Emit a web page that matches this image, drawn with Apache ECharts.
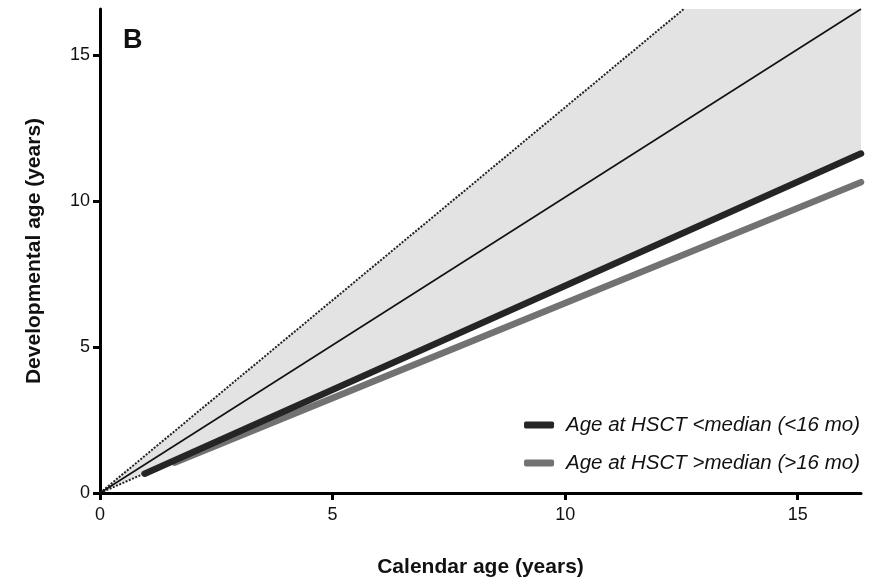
<!DOCTYPE html>
<html>
<head>
<meta charset="utf-8">
<script src="https://cdn.jsdelivr.net/npm/echarts@6/dist/echarts.min.js"></script>
<style>
  html, body { margin: 0; padding: 0; background: #fff; }
  #chart { width: 872px; height: 583px; }
</style>
</head>
<body>
<div id="chart"></div>
<script>
// values (years)
var xMax = 16.36;
var yMax = 16.57;
var tickValues = [0, 5, 10, 15];

// grey band: lower edge and upper (dotted) edge, same x points
var bandX = [0, 12.55, 16.36];
var bandLow = [0, 8.9, 11.6];
var bandHigh = [0, 16.57, 16.57];

var upperDotted = [[0, 0], [12.55, 16.57]];
var lowerDotted = [[0, 0], [1.0, 0.7]];
var identityLine = [[0, 0], [16.36, 16.57]];
var belowMedian = [[0.96, 0.66], [16.36, 11.62]];
var aboveMedian = [[1.6, 1.04], [16.36, 10.64]];

var nameBelow = "Age at HSCT <median (<16 mo)";
var nameAbove = "Age at HSCT >median (>16 mo)";

var font = "'Liberation Sans', Arial, sans-serif";

function renderBand(params, api) {
  var pts = [];
  for (var i = 0; i < bandX.length; i++) {
    pts.push(api.coord([bandX[i], bandHigh[i]]));
  }
  for (var j = bandX.length - 1; j >= 0; j--) {
    pts.push(api.coord([bandX[j], bandLow[j]]));
  }
  return {
    type: "polygon",
    shape: { points: pts },
    style: { fill: "#e3e3e3" },
    silent: true
  };
}

var chart = echarts.init(document.getElementById("chart"));
chart.setOption({
  backgroundColor: "#fff",
  animation: false,
  title: {
    text: "B",
    left: 118,
    top: 22,
    textStyle: { fontFamily: font, fontSize: 27, fontWeight: "bold", color: "#111" }
  },
  grid: { left: 100, right: 11, top: 9, bottom: 88 },
  legend: {
    orient: "vertical",
    right: 7,
    top: 410,
    itemGap: 18,
    itemWidth: 30,
    itemHeight: 7,
    icon: "roundRect",
    data: [nameBelow, nameAbove],
    textStyle: {
      fontFamily: font,
      fontSize: 20.5,
      fontStyle: "italic",
      color: "#111",
      padding: [0, 0, 0, 7]
    }
  },
  xAxis: {
    type: "value",
    min: 0,
    max: xMax,
    name: "Calendar age (years)",
    nameLocation: "middle",
    nameGap: 64,
    nameTextStyle: { fontFamily: font, fontSize: 21, fontWeight: "bold", color: "#111" },
    axisLine: { lineStyle: { color: "#000", width: 3 } },
    axisTick: { customValues: tickValues, length: 7, lineStyle: { color: "#000", width: 3 } },
    axisLabel: { customValues: tickValues, margin: 13, fontFamily: font, fontSize: 18, color: "#111" },
    splitLine: { show: false }
  },
  yAxis: {
    type: "value",
    min: 0,
    max: yMax,
    name: "Developmental age (years)",
    nameLocation: "middle",
    nameGap: 55,
    nameTextStyle: { fontFamily: font, fontSize: 21, fontWeight: "bold", color: "#111" },
    axisLine: { lineStyle: { color: "#000", width: 3 } },
    axisTick: { customValues: tickValues, length: 7, lineStyle: { color: "#000", width: 3 } },
    axisLabel: { customValues: tickValues, margin: 10, fontFamily: font, fontSize: 18, color: "#111" },
    splitLine: { show: false }
  },
  series: [
    {
      type: "custom",
      renderItem: renderBand,
      data: [[0, 0]],
      silent: true,
      z: 1
    },
    {
      type: "line",
      data: upperDotted,
      symbol: "none",
      lineStyle: { color: "#222", width: 2, type: [2, 1.5] },
      z: 2
    },
    {
      type: "line",
      data: lowerDotted,
      symbol: "none",
      lineStyle: { color: "#222", width: 2, type: [2, 1.5] },
      z: 2
    },
    {
      type: "line",
      data: identityLine,
      symbol: "none",
      lineStyle: { color: "#111", width: 1.6 },
      z: 3
    },
    {
      name: nameAbove,
      type: "line",
      data: aboveMedian,
      symbol: "none",
      clip: false,
      itemStyle: { color: "#727272" },
      lineStyle: { color: "#727272", width: 6.5, cap: "round" },
      z: 4
    },
    {
      name: nameBelow,
      type: "line",
      data: belowMedian,
      symbol: "none",
      clip: false,
      itemStyle: { color: "#252525" },
      lineStyle: { color: "#252525", width: 6.5, cap: "round" },
      z: 5
    }
  ]
});
</script>
</body>
</html>
